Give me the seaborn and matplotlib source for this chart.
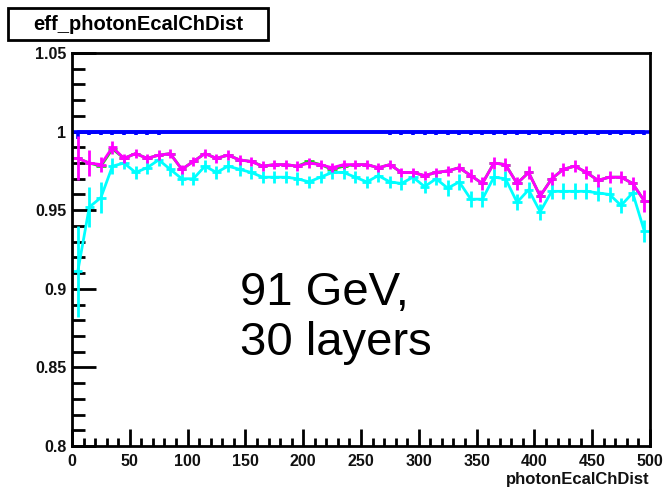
import matplotlib
matplotlib.use("Agg")
import matplotlib.pyplot as plt
import seaborn as sns
import pandas as pd
from matplotlib.ticker import MultipleLocator
from matplotlib.patches import Rectangle

# ---- data: efficiency vs photonEcalChDist (bin width 10) ----
bin_centers = [5, 15, 25, 35, 45, 55, 65, 75, 85, 95,
               105, 115, 125, 135, 145, 155, 165, 175, 185, 195,
               205, 215, 225, 235, 245, 255, 265, 275, 285, 295,
               305, 315, 325, 335, 345, 355, 365, 375, 385, 395,
               405, 415, 425, 435, 445, 455, 465, 475, 485, 495]

eff_blue = [1.0, 1.0, 1.0, 1.0, 1.0, 1.0, 1.0, 1.0, 1.0, 1.0,
            1.0, 1.0, 1.0, 1.0, 1.0, 1.0, 1.0, 1.0, 1.0, 1.0,
            1.0, 1.0, 1.0, 1.0, 1.0, 1.0, 1.0, 1.0, 1.0, 1.0,
            1.0, 1.0, 1.0, 1.0, 1.0, 1.0, 1.0, 1.0, 1.0, 1.0,
            1.0, 1.0, 1.0, 1.0, 1.0, 1.0, 1.0, 1.0, 1.0, 1.0]
err_blue = [0.005, 0.002, 0.002, 0.002, 0.002, 0.002, 0.002, 0.002, 0.0, 0.0,
            0.0, 0.0, 0.0, 0.0, 0.0, 0.0, 0.0, 0.0, 0.0, 0.0,
            0.0, 0.0, 0.0, 0.0, 0.0, 0.0, 0.0, 0.002, 0.002, 0.002,
            0.002, 0.002, 0.002, 0.002, 0.002, 0.002, 0.002, 0.002, 0.002, 0.002,
            0.002, 0.002, 0.002, 0.002, 0.002, 0.002, 0.002, 0.002, 0.002, 0.002]

eff_magenta = [0.983, 0.980, 0.979, 0.990, 0.983, 0.986, 0.983, 0.985, 0.986, 0.976,
               0.981, 0.986, 0.983, 0.985, 0.982, 0.981, 0.978, 0.979, 0.979, 0.978,
               0.980, 0.979, 0.977, 0.979, 0.979, 0.979, 0.977, 0.979, 0.974, 0.974,
               0.972, 0.974, 0.975, 0.977, 0.972, 0.967, 0.980, 0.979, 0.967, 0.974,
               0.959, 0.970, 0.976, 0.978, 0.974, 0.969, 0.971, 0.971, 0.967, 0.956]
err_magenta = [0.014, 0.008, 0.005, 0.004, 0.003, 0.003, 0.003, 0.003, 0.003, 0.003,
               0.003, 0.003, 0.003, 0.003, 0.003, 0.003, 0.003, 0.003, 0.003, 0.003,
               0.003, 0.003, 0.003, 0.003, 0.003, 0.003, 0.003, 0.003, 0.003, 0.003,
               0.003, 0.003, 0.003, 0.003, 0.004, 0.004, 0.004, 0.004, 0.004, 0.004,
               0.004, 0.004, 0.004, 0.004, 0.004, 0.004, 0.004, 0.004, 0.004, 0.007]

eff_green = [0.983, 0.980, 0.978, 0.989, 0.983, 0.986, 0.983, 0.985, 0.986, 0.976,
             0.981, 0.986, 0.983, 0.985, 0.982, 0.981, 0.978, 0.979, 0.979, 0.978,
             0.981, 0.979, 0.976, 0.978, 0.979, 0.979, 0.977, 0.979, 0.974, 0.974,
             0.972, 0.974, 0.975, 0.977, 0.972, 0.967, 0.980, 0.979, 0.967, 0.974,
             0.959, 0.970, 0.976, 0.978, 0.974, 0.969, 0.971, 0.971, 0.967, 0.956]

eff_cyan = [0.911, 0.952, 0.958, 0.978, 0.980, 0.974, 0.977, 0.982, 0.976, 0.970,
            0.970, 0.978, 0.974, 0.978, 0.976, 0.974, 0.971, 0.971, 0.971, 0.970,
            0.968, 0.971, 0.974, 0.974, 0.971, 0.968, 0.972, 0.968, 0.967, 0.971,
            0.965, 0.970, 0.964, 0.968, 0.957, 0.957, 0.971, 0.970, 0.955, 0.963,
            0.949, 0.962, 0.962, 0.962, 0.962, 0.961, 0.960, 0.953, 0.961, 0.937]
err_cyan = [0.029, 0.013, 0.010, 0.005, 0.004, 0.004, 0.004, 0.004, 0.004, 0.004,
            0.004, 0.004, 0.004, 0.004, 0.004, 0.004, 0.004, 0.004, 0.004, 0.004,
            0.004, 0.004, 0.004, 0.004, 0.004, 0.004, 0.004, 0.004, 0.004, 0.004,
            0.004, 0.004, 0.005, 0.005, 0.005, 0.005, 0.005, 0.005, 0.005, 0.005,
            0.005, 0.005, 0.005, 0.005, 0.005, 0.005, 0.005, 0.005, 0.005, 0.007]

y_ticks = [0.8, 0.85, 0.9, 0.95, 1.0, 1.05]
y_tick_labels = ["0.8", "0.85", "0.9", "0.95", "1", "1.05"]
x_ticks = [0, 50, 100, 150, 200, 250, 300, 350, 400, 450, 500]
x_tick_labels = ["0", "50", "100", "150", "200", "250", "300", "350", "400", "450", "500"]

title_text = "eff_photonEcalChDist"
x_label = "photonEcalChDist"
note_text = "91 GeV,\n30 layers"

# ---- style ----
sns.set_style("white")
plt.rcParams["font.family"] = ["Liberation Sans", "DejaVu Sans"]

fig = plt.figure(figsize=(6.64, 4.88), dpi=100)
ax = fig.add_axes([0.1084, 0.0861, 0.8705, 0.8053])

df = pd.DataFrame({"x": bin_centers, "blue": eff_blue, "green": eff_green,
                   "cyan": eff_cyan, "magenta": eff_magenta})

series = [
    ("blue", "#0000ff", err_blue, 5, 2.6),
    ("green", "#22cc22", None, 4, 2.0),
    ("cyan", "#00ffff", err_cyan, 4, 2.0),
    ("magenta", "#ff00ff", err_magenta, 4, 2.0),
]
for name, color, err, xhalf, lw in series:
    sns.lineplot(data=df, x="x", y=name, color=color, linewidth=lw,
                 estimator=None, sort=False, ax=ax, legend=False)
    if name == "blue":
        yerr = [err, [0.0] * len(err)]
    else:
        yerr = err
    ax.errorbar(df["x"], df[name], yerr=yerr, xerr=xhalf, fmt="none",
                ecolor=color, elinewidth=lw, capsize=0)

ax.set_xlim(0, 500)
ax.set_ylim(0.8, 1.05)
ax.set_xticks(x_ticks)
ax.set_xticklabels(x_tick_labels)
ax.set_yticks(y_ticks)
ax.set_yticklabels(y_tick_labels)
ax.xaxis.set_minor_locator(MultipleLocator(10))
ax.yaxis.set_minor_locator(MultipleLocator(0.01))

for side in ["left", "bottom", "right", "top"]:
    ax.spines[side].set_visible(True)
    ax.spines[side].set_linewidth(2)
    ax.spines[side].set_color("black")

ax.tick_params(axis="both", which="both", direction="in", width=2,
               color="black", left=True, bottom=True, right=False, top=False)
ax.tick_params(axis="y", which="major", length=17, pad=4)
ax.tick_params(axis="y", which="minor", length=9)
ax.tick_params(axis="x", which="major", length=12, pad=6)
ax.tick_params(axis="x", which="minor", length=6)
for lab in ax.get_xticklabels() + ax.get_yticklabels():
    lab.set_fontweight("bold")
    lab.set_fontsize(11.5)
    lab.set_color("#111111")

ax.set_ylabel("")
ax.set_xlabel(x_label, loc="right", fontsize=12, fontweight="bold",
              color="#111111", labelpad=2)

ax.text(145, 0.911, note_text, fontsize=34, color="black",
        ha="left", va="top", linespacing=1.15)

# title box
fig.patches.append(Rectangle((8 / 664, 1 - 40 / 488), 260 / 664, 32 / 488,
                             transform=fig.transFigure, fill=True,
                             facecolor="white", edgecolor="black",
                             linewidth=2))
fig.text(138 / 664, 1 - 24 / 488, title_text, fontsize=14.5,
         fontweight="bold", ha="center", va="center", color="black")

fig.savefig("out.png", dpi=100)
